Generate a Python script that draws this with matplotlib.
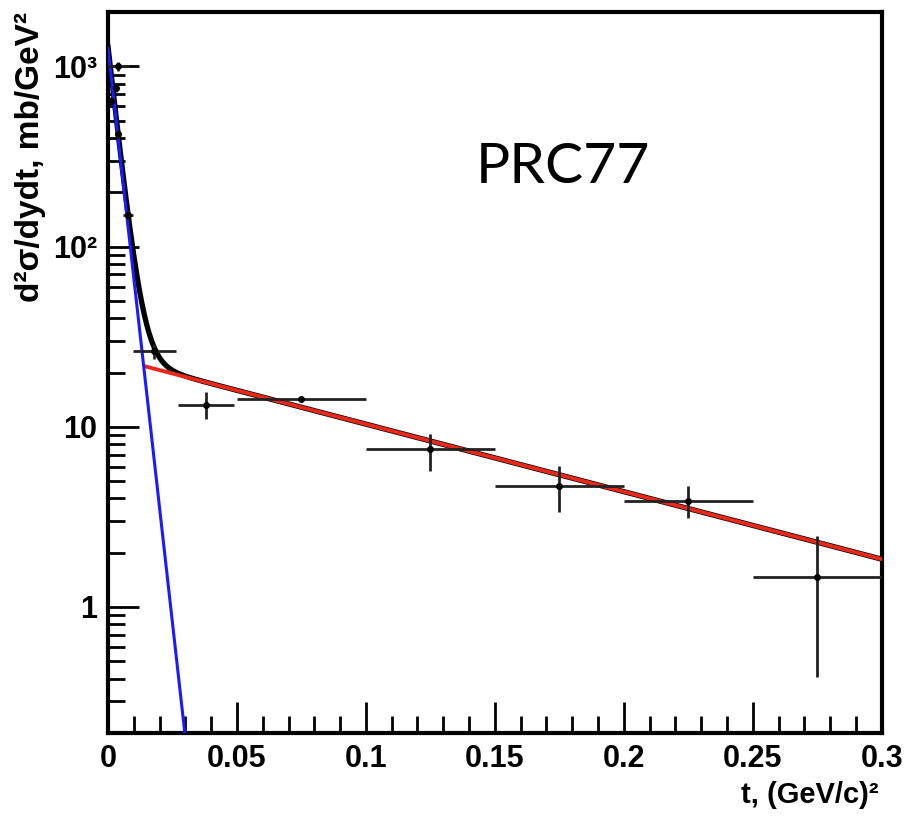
import numpy as np
import matplotlib
matplotlib.use("Agg")
import matplotlib.pyplot as plt
from matplotlib.ticker import FixedLocator, MultipleLocator, NullFormatter

# data points
t_vals = [0.004, 0.003, 0.001, 0.004, 0.0078, 0.018, 0.038, 0.075, 0.125, 0.175, 0.225, 0.275]
sigma = [1000, 760, 640, 420, 150, 26.4, 13.2, 14.3, 7.5, 4.7, 3.85, 1.47]
t_err = [0.004, 0.001, 0.001, 0.001, 0.002, 0.0085, 0.011, 0.025, 0.025, 0.025, 0.025, 0.025]
sig_lo = [60, 40, 40, 25, 10, 2.5, 2.1, 0.6, 1.8, 1.35, 0.75, 1.06]
sig_hi = [60, 40, 40, 25, 10, 2.5, 2.4, 0.6, 1.6, 1.36, 0.85, 1.0]

# fit parameters (A*exp(-b*t))
coh_A, coh_b = 1260.0, 294.0
inc_A, inc_b = 24.5, 8.63
inc_start = 0.015

plt.rcParams['font.family'] = ['Liberation Sans', 'DejaVu Sans']

fig = plt.figure(figsize=(9.08, 8.16), dpi=100)
ax = fig.add_axes([0.119, 0.102, 0.852, 0.883])

tt = np.linspace(0, 0.3, 600)
total = coh_A * np.exp(-coh_b * tt) + inc_A * np.exp(-inc_b * tt)
ax.plot(tt, total, color='black', lw=3.8, zorder=2)

ti = np.linspace(inc_start, 0.3, 300)
ax.plot(ti, inc_A * np.exp(-inc_b * ti), color='#e8281a', lw=2.8, zorder=3)

tc = np.linspace(0, 0.04, 300)
ax.plot(tc, coh_A * np.exp(-coh_b * tc), color='#1a1aff', lw=2.2, zorder=4)

ax.errorbar(t_vals, sigma, xerr=t_err, yerr=[sig_lo, sig_hi], fmt='o', color='black',
            ecolor='#222222', elinewidth=2, ms=4, capsize=0, zorder=5)

ax.set_xlim(0, 0.3)
ax.set_yscale('log')
ax.set_ylim(0.2, 2000)

ax.xaxis.set_minor_locator(MultipleLocator(0.01))
ax.set_xticks([0, 0.05, 0.1, 0.15, 0.2, 0.25, 0.3])
ax.set_xticklabels(['0', '0.05', '0.1', '0.15', '0.2', '0.25', '0.3'])
ax.yaxis.set_major_locator(FixedLocator([1, 10, 100, 1000]))
ax.set_yticklabels(['1', '10', '10²', '10³'])
ax.yaxis.set_minor_formatter(NullFormatter())

ax.tick_params(which='both', direction='in', top=False, right=False, width=2,
               labelsize=22, pad=8)
ax.tick_params(which='major', length=22)
ax.tick_params(which='minor', length=12)
for lbl in ax.get_xticklabels() + ax.get_yticklabels():
    lbl.set_fontweight('bold')
for sp in ax.spines.values():
    sp.set_linewidth(3)

fig.text(0.968, 0.008, 't, (GeV/c)²', ha='right', va='bottom', fontsize=21, fontweight='bold')
fig.text(0.033, 0.986, 'd²σ/dydt, mb/GeV²', rotation=90, ha='center', va='top',
         fontsize=24, fontweight='bold')

ax.text(0.588, 0.784, 'PRC77', transform=ax.transAxes, ha='center', va='center',
        fontsize=41, family='Lato')

fig.savefig('out.png', dpi=100)
